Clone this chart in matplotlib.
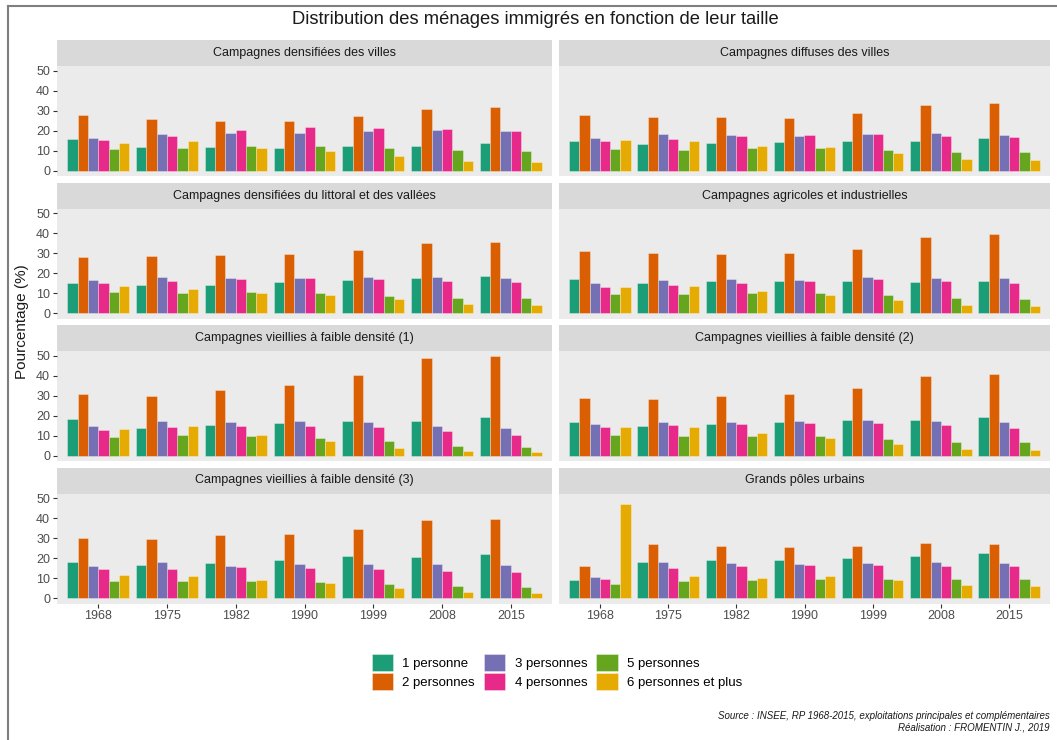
import matplotlib
matplotlib.use("Agg")
import matplotlib.pyplot as plt
from matplotlib.patches import Patch
from matplotlib.lines import Line2D
import numpy as np

plt.rcParams['font.family'] = ['Liberation Sans', 'DejaVu Sans']

years = ["1968", "1975", "1982", "1990", "1999", "2008", "2015"]
tailles = ["1 personne", "2 personnes", "3 personnes", "4 personnes",
           "5 personnes", "6 personnes et plus"]
couleurs = ["#1B9E77", "#D95F02", "#7570B3", "#E7298A", "#66A61E", "#E6AB02"]

regions = ["Campagnes densifiées des villes",
           "Campagnes diffuses des villes",
           "Campagnes densifiées du littoral et des vallées",
           "Campagnes agricoles et industrielles",
           "Campagnes vieillies à faible densité (1)",
           "Campagnes vieillies à faible densité (2)",
           "Campagnes vieillies à faible densité (3)",
           "Grands pôles urbains"]

# one row per household size, one column per census year (%)
densifiees_villes = [
    [15.7, 11.8, 11.8, 11.4, 12.3, 12.4, 13.7],
    [27.8, 25.7, 24.8, 24.7, 27.3, 30.8, 31.8],
    [16.4, 18.5, 18.7, 19.0, 20.0, 20.4, 19.7],
    [15.2, 17.5, 20.5, 21.9, 21.5, 20.9, 19.9],
    [10.8, 11.4, 12.3, 12.6, 11.3, 10.4, 9.9],
    [13.7, 14.7, 11.6, 9.9, 7.3, 5.1, 4.6]]
diffuses_villes = [
    [15.1, 13.4, 13.9, 14.6, 14.9, 15.1, 16.2],
    [27.8, 27.0, 26.7, 26.5, 29.0, 32.8, 33.9],
    [16.2, 18.4, 17.9, 17.4, 18.2, 18.7, 17.9],
    [14.9, 15.7, 17.2, 17.7, 18.2, 17.5, 16.7],
    [10.8, 10.6, 11.4, 11.6, 10.4, 9.6, 9.6],
    [15.2, 14.7, 12.4, 11.9, 8.8, 6.0, 5.3]]
littoral_vallees = [
    [15.2, 14.1, 14.4, 15.7, 16.9, 17.5, 18.9],
    [28.1, 28.5, 29.1, 29.6, 31.8, 34.9, 35.6],
    [16.7, 18.2, 17.7, 17.7, 18.0, 18.2, 17.7],
    [15.2, 16.4, 17.2, 17.5, 17.1, 16.1, 15.6],
    [10.6, 10.1, 10.6, 10.1, 8.9, 7.9, 7.8],
    [13.7, 12.4, 10.4, 9.1, 7.0, 4.5, 4.0]]
agricoles_industrielles = [
    [17.2, 15.1, 16.2, 16.2, 16.2, 15.6, 16.4],
    [31.3, 30.1, 29.8, 30.1, 32.3, 38.1, 39.6],
    [15.2, 16.7, 17.1, 16.7, 18.0, 17.7, 17.5],
    [13.2, 14.1, 15.2, 16.4, 17.1, 16.2, 15.2],
    [9.6, 9.6, 10.1, 10.4, 9.4, 7.9, 7.3],
    [13.2, 13.9, 11.3, 9.4, 6.8, 4.1, 3.6]]
vieillies_1 = [
    [18.6, 13.9, 15.2, 16.4, 17.4, 17.2, 19.6],
    [31.1, 30.1, 32.8, 35.6, 40.2, 48.6, 49.8],
    [14.9, 17.6, 17.1, 17.2, 17.1, 14.7, 13.9],
    [13.0, 14.4, 15.0, 15.0, 14.4, 12.3, 10.6],
    [9.5, 10.3, 10.1, 9.1, 7.4, 5.1, 4.4],
    [13.5, 14.7, 10.5, 7.4, 4.2, 2.5, 2.0]]
vieillies_2 = [
    [16.7, 15.0, 16.0, 16.7, 17.9, 18.1, 19.6],
    [29.1, 28.5, 29.9, 31.1, 34.1, 39.7, 40.9],
    [15.9, 17.1, 17.1, 17.6, 17.9, 17.2, 16.9],
    [14.2, 15.4, 16.0, 16.4, 16.4, 15.2, 13.9],
    [10.5, 10.1, 10.1, 9.8, 8.4, 6.9, 6.8],
    [14.5, 14.5, 11.5, 9.0, 6.1, 3.5, 2.9]]
vieillies_3 = [
    [18.0, 16.9, 17.9, 19.4, 21.2, 20.5, 22.2],
    [30.1, 29.5, 31.6, 32.1, 34.4, 38.9, 39.6],
    [16.1, 18.2, 16.2, 17.4, 17.1, 17.1, 16.9],
    [14.6, 14.6, 15.6, 15.2, 14.9, 13.9, 13.1],
    [8.9, 8.8, 8.8, 8.1, 7.1, 6.3, 5.6],
    [11.6, 11.4, 9.3, 7.5, 5.0, 3.1, 2.5]]
grands_poles = [
    [9.1, 18.4, 19.4, 19.0, 20.4, 21.4, 22.8],
    [16.1, 27.3, 26.3, 25.8, 26.0, 27.6, 27.3],
    [10.9, 18.4, 17.7, 17.4, 17.7, 18.2, 17.7],
    [9.9, 15.1, 16.2, 16.6, 16.6, 16.2, 16.1],
    [7.0, 8.9, 9.3, 9.6, 9.8, 9.6, 9.6],
    [46.9, 11.3, 10.4, 11.1, 9.1, 6.6, 6.0]]

donnees = [densifiees_villes, diffuses_villes, littoral_vallees,
           agricoles_industrielles, vieillies_1, vieillies_2,
           vieillies_3, grands_poles]

W, H = 1057, 740
fig = plt.figure(figsize=(W / 100, H / 100), dpi=100)


def px_axes(x0, y0, x1, y1):
    # pixel box, origin at top-left of the image
    return fig.add_axes([x0 / W, 1 - y1 / H, (x1 - x0) / W, (y1 - y0) / H])


cols = [(57, 552), (559, 1050)]
row_tops = [40, 182.5, 325, 467.5]
strip_h, panel_h = 26, 110

x = np.arange(len(years))
bw = 0.9 / len(tailles)

for i, (nom, vals) in enumerate(zip(regions, donnees)):
    r, c = divmod(i, 2)
    x0, x1 = cols[c]
    top = row_tops[r]

    st = px_axes(x0, top, x1, top + strip_h)
    st.set_facecolor("#D9D9D9")
    st.set_xticks([])
    st.set_yticks([])
    for s in st.spines.values():
        s.set_visible(False)
    st.text(0.5, 0.5, nom, ha="center", va="center", fontsize=9,
            color="#1A1A1A", transform=st.transAxes)

    ax = px_axes(x0, top + strip_h, x1, top + strip_h + panel_h)
    ax.set_facecolor("#EBEBEB")
    for k, serie in enumerate(vals):
        ax.bar(x - 0.45 + bw * (k + 0.5), serie, width=bw, color=couleurs[k],
               edgecolor=(1, 1, 1, 0.45), linewidth=0.5)
    ax.set_xlim(-0.6, len(years) - 0.4)
    ax.set_ylim(-2.5, 52.3)
    for s in ax.spines.values():
        s.set_visible(False)
    ax.set_yticks([0, 10, 20, 30, 40, 50])
    ax.set_xticks(x)
    ax.tick_params(axis="both", length=3, color="#333333", labelsize=9,
                   labelcolor="#4D4D4D", pad=2)
    if c == 1:
        ax.set_yticklabels([])
        ax.tick_params(axis="y", length=0)
    if r < 3:
        ax.set_xticklabels([])
        ax.tick_params(axis="x", length=0)
    else:
        ax.set_xticklabels(years)

fig.text(535 / W, 1 - 20 / H, "Distribution des ménages immigrés en fonction de leur taille",
         ha="center", va="center", fontsize=13.2, color="#1A1A1A")
fig.text(22 / W, 1 - 322 / H, "Pourcentage (%)", rotation=90, ha="center",
         va="center", fontsize=11, color="#1A1A1A")

handles = [Patch(facecolor=cl, edgecolor=(1, 1, 1, 0.5), linewidth=0.5) for cl in couleurs]
fig.legend(handles, tailles, loc="center", bbox_to_anchor=(557 / W, 1 - 672 / H),
           ncol=3, frameon=False, fontsize=9.5, handlelength=1.6, handleheight=1.6,
           handletextpad=0.7, labelspacing=0.2, columnspacing=0.7,
           borderaxespad=0)

fig.text(1050 / W, 1 - 716 / H,
         "Source : INSEE, RP 1968-2015, exploitations principales et complémentaires",
         ha="right", va="center", fontsize=7.0, style="italic", color="#1A1A1A")
fig.text(1050 / W, 1 - 727 / H, "Réalisation : FROMENTIN J., 2019",
         ha="right", va="center", fontsize=7.0, style="italic", color="#1A1A1A")

# grey frame around the figure
fig.add_artist(Line2D([8 / W, 8 / W], [0, 1 - 6 / H], color="#7F7F7F", lw=1.5))
fig.add_artist(Line2D([8 / W, 1], [1 - 6 / H, 1 - 6 / H], color="#7F7F7F", lw=1.5))

fig.savefig("out.png", dpi=100)
